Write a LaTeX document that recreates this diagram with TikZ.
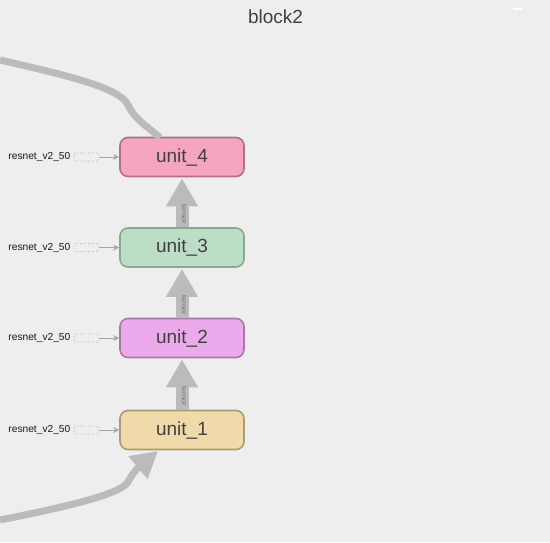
\documentclass[tikz,border=0pt]{standalone}
\usepackage{fontspec}
\setmainfont{Liberation Sans}
\usetikzlibrary{arrows.meta}
\definecolor{bg}{HTML}{EEEEEE}
\definecolor{edge}{HTML}{BBBBBB}
\definecolor{txt}{HTML}{404040}
\definecolor{fA}{HTML}{F6A5BF}\definecolor{bA}{HTML}{B07089}
\definecolor{fB}{HTML}{BCDEC5}\definecolor{bB}{HTML}{88A890}
\definecolor{fC}{HTML}{EBAAEB}\definecolor{bC}{HTML}{A878A8}
\definecolor{fD}{HTML}{F1DAAA}\definecolor{bD}{HTML}{AC9A72}
\tikzset{
  unitbox/.style={draw, line width=1.6pt, rounded corners=8pt, minimum width=124pt, minimum height=39pt, inner sep=0pt, font=\fontsize{19}{19}\selectfont, text=txt},
  srclabel/.style={font=\fontsize{10.2}{10}\selectfont, text=black!90, anchor=east, inner sep=0pt},
  dashbox/.style={draw=black!35, dotted, line width=0.7pt, rounded corners=2pt, minimum width=25pt, minimum height=8pt, inner sep=0pt},
  thinarrow/.style={draw=black!35, line width=1pt, -{Stealth[length=6pt,width=6pt]}},
  tensorarrow/.style={draw=edge, line width=13pt, -{Triangle[length=28pt,width=30pt]}, shorten >=1pt},
  tensorlabel/.style={font=\fontsize{7}{7}\selectfont, text=black!55, rotate=-90, inner sep=0pt},
  bigedge/.style={draw=edge, line width=7pt},
}
\begin{document}
\begin{tikzpicture}[x=1pt,y=-1pt]
\useasboundingbox[fill=bg] (0,0) rectangle (550,542);
\node[font=\fontsize{19}{19}\selectfont, text=txt] (title) at (275.5,17) {block2};
\draw[white, line width=1.5pt] (513,9) -- (522,9);
\node[unitbox, fill=fA, draw=bA] (u4) at (182,157) {unit\_4};
\node[unitbox, fill=fB, draw=bB] (u3) at (182,247.5) {unit\_3};
\node[unitbox, fill=fC, draw=bC] (u2) at (182,338) {unit\_2};
\node[unitbox, fill=fD, draw=bD] (u1) at (182,430) {unit\_1};
\foreach \i/\y in {4/157,3/247.5,2/338,1/430}{
  \node[dashbox] (d\i) at (86.5,\y) {};
  \node[srclabel] (l\i) at (70.5,\y) {resnet\_v2\_50};
  \draw[thinarrow] (d\i.east) -- (u\i.west);
}
\draw[tensorarrow] (u3.north) -- (u4.south);
\draw[tensorarrow] (u2.north) -- (u3.south);
\draw[tensorarrow] (u1.north) -- (u2.south);
\node[tensorlabel] (t4) at (184,214) {tensor};
\node[tensorlabel] (t3) at (184,305) {tensor};
\node[tensorlabel] (t2) at (184,396) {tensor};
\coordinate (topstart) at (0,60);
\coordinate (u4in) at (160,137.5);
\coordinate (botstart) at (0,520);
\coordinate (u1in) at (158,451);
\draw[bigedge] (topstart) .. controls (70,76) and (120,88) .. (128,105) .. controls (134,118) and (145,125) .. (u4in);
\draw[bigedge, -{Triangle[length=26pt,width=28pt]}] (botstart) .. controls (60,508) and (120,495) .. (128,482) .. controls (133,472) and (140,466) .. (u1in);
\end{tikzpicture}
\end{document}
